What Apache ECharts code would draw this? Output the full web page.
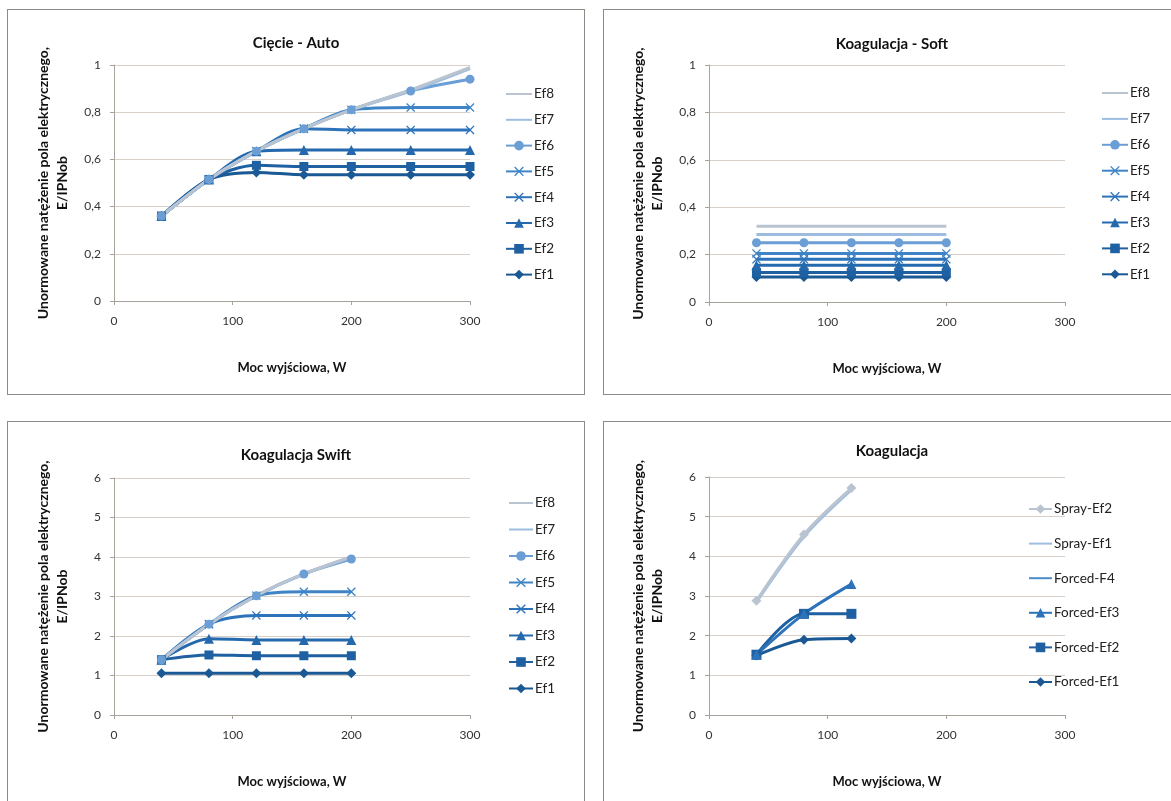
<!DOCTYPE html>
<html>
<head>
<meta charset="utf-8">
<script src="https://cdn.jsdelivr.net/npm/echarts@6/dist/echarts.min.js"></script>
<style>
  html, body { margin: 0; padding: 0; background: #ffffff; width: 1171px; height: 801px; overflow: hidden; }
  .panel { position: absolute; border: 1px solid #8e8a86; background: #ffffff; box-sizing: border-box; }
</style>
</head>
<body>
<div id="p1" class="panel" style="left:7px; top:9px; width:578px; height:386px;"></div>
<div id="p2" class="panel" style="left:603px; top:9px; width:578px; height:386px;"></div>
<div id="p3" class="panel" style="left:7px; top:421px; width:578px; height:392px;"></div>
<div id="p4" class="panel" style="left:603px; top:421px; width:578px; height:392px;"></div>
<script>
// ---------- DATA ----------
const efNames = ['Ef1', 'Ef2', 'Ef3', 'Ef4', 'Ef5', 'Ef6', 'Ef7', 'Ef8'];

// Cięcie - Auto
const autoX   = [40, 80, 120, 160, 200, 250, 300];
const autoEf1 = [0.36, 0.515, 0.545, 0.535, 0.535, 0.535, 0.535];
const autoEf2 = [0.36, 0.515, 0.575, 0.57, 0.57, 0.57, 0.57];
const autoEf3 = [0.36, 0.515, 0.635, 0.64, 0.64, 0.64, 0.64];
const autoEf4 = [0.36, 0.515, 0.635, 0.73, 0.725, 0.725, 0.725];
const autoEf5 = [0.36, 0.515, 0.635, 0.73, 0.81, 0.82, 0.82];
const autoEf6 = [0.36, 0.515, 0.635, 0.73, 0.81, 0.89, 0.94];
const autoEf7 = [0.36, 0.515, 0.635, 0.73, 0.81, 0.89, 0.985];
const autoEf8 = [0.36, 0.515, 0.635, 0.73, 0.81, 0.895, 0.99];

// Koagulacja - Soft
const softX   = [40, 80, 120, 160, 200];
const softEf1 = [0.105, 0.105, 0.105, 0.105, 0.105];
const softEf2 = [0.125, 0.125, 0.125, 0.125, 0.125];
const softEf3 = [0.155, 0.155, 0.155, 0.155, 0.155];
const softEf4 = [0.18, 0.18, 0.18, 0.18, 0.18];
const softEf5 = [0.205, 0.205, 0.205, 0.205, 0.205];
const softEf6 = [0.25, 0.25, 0.25, 0.25, 0.25];
const softEf7 = [0.285, 0.285, 0.285, 0.285, 0.285];
const softEf8 = [0.32, 0.32, 0.32, 0.32, 0.32];

// Koagulacja Swift
const swiftX   = [40, 80, 120, 160, 200];
const swiftEf1 = [1.06, 1.06, 1.06, 1.06, 1.06];
const swiftEf2 = [1.4, 1.52, 1.5, 1.5, 1.5];
const swiftEf3 = [1.4, 1.93, 1.9, 1.9, 1.9];
const swiftEf4 = [1.4, 2.3, 2.52, 2.52, 2.52];
const swiftEf5 = [1.4, 2.3, 3.02, 3.12, 3.12];
const swiftEf6 = [1.4, 2.3, 3.02, 3.57, 3.95];
const swiftEf7 = [1.4, 2.3, 3.02, 3.57, 4.0];
const swiftEf8 = [1.4, 2.3, 3.02, 3.57, 4.0];

// Koagulacja
const coagX         = [40, 80, 120];
const coagForcedEf1 = [1.5, 1.9, 1.93];
const coagForcedEf2 = [1.52, 2.55, 2.55];
const coagForcedEf3 = [1.52, 2.55, 3.3];
const coagForcedF4  = [];
const coagSprayEf1  = [2.85, 4.5, 5.68];
const coagSprayEf2  = [2.88, 4.55, 5.72];
const coagNames = ['Forced-Ef1', 'Forced-Ef2', 'Forced-Ef3', 'Forced-F4', 'Spray-Ef1', 'Spray-Ef2'];

const xTicks = [0, 100, 200, 300];

// ---------- STYLE ----------
const FONT = 'Lato, "Open Sans", sans-serif';
const efColors = ['#1b5995', '#1f60a2', '#2468ad', '#2d73ba', '#3f84c6', '#6a9ed4', '#9dbcdf', '#b9c4d0'];
const crossPath = 'path://M0,1L1,0L5,4L9,0L10,1L6,5L10,9L9,10L5,6L1,10L0,9L4,5Z';
const efSymbols = ['diamond', 'rect', 'triangle', crossPath, crossPath, 'circle', 'none', 'none'];
const efSizes = [10, 9, 10, 9, 9, 9, 0, 0];

function mkSeries(name, xs, vals, color, symbol, size) {
  const noMark = symbol === 'none';
  return {
    name: name,
    type: 'line',
    smooth: 0.3,
    data: xs.map((x, i) => [x, vals[i]]),
    symbol: noMark ? 'circle' : symbol,
    symbolSize: noMark ? 1 : size,
    showSymbol: !noMark,
    lineStyle: { width: 3, color: color },
    itemStyle: { color: color, opacity: noMark ? 0 : 1 },
    emphasis: { disabled: true },
    animation: false
  };
}

function makePanel(id, cfg) {
  const chart = echarts.init(document.getElementById(id), null, { renderer: 'canvas' });
  const option = {
    animation: false,
    backgroundColor: '#ffffff',
    title: {
      text: cfg.title, left: 'center', top: cfg.titleTop,
      textStyle: { fontFamily: FONT, fontSize: 15, fontWeight: 'bold', color: '#111' }
    },
    grid: { left: cfg.gridLeft, top: cfg.gridTop, width: 356, height: cfg.gridHeight },
    legend: {
      orient: 'vertical', left: cfg.legendLeft, top: cfg.legendTop,
      itemWidth: cfg.legendIconW, itemHeight: 12, itemGap: cfg.legendGap,
      data: cfg.series.map(s => s.name).slice().reverse(),
      textStyle: { fontFamily: FONT, fontSize: 13.5, color: '#222', padding: [0, 0, 0, -3] },
      selectedMode: false
    },
    xAxis: {
      type: 'value', min: xTicks[0], max: xTicks[xTicks.length - 1], interval: 100,
      name: 'Moc wyjściowa, W', nameLocation: 'middle', nameGap: cfg.xNameGap,
      nameTextStyle: { fontFamily: FONT, fontSize: 13, fontWeight: 'bold', color: '#111' },
      axisLine: { show: true, lineStyle: { color: '#a8a29c', width: 1 } },
      axisTick: { show: true, length: 4, inside: false, lineStyle: { color: '#a8a29c' } },
      axisLabel: { fontFamily: FONT, fontSize: 12, color: '#333', margin: 14 },
      splitLine: { show: false }
    },
    yAxis: {
      type: 'value', min: 0, max: cfg.yMax, interval: cfg.yInterval,
      name: 'Unormowane natężenie pola elektrycznego,\nE/IPNob',
      nameLocation: 'middle', nameGap: cfg.yNameGap, nameRotate: 90,
      nameTextStyle: { fontFamily: FONT, fontSize: 14, fontWeight: 'bold', color: '#111', lineHeight: 19, align: 'center' },
      axisLine: { show: true, lineStyle: { color: '#a8a29c', width: 1 } },
      axisTick: { show: true, length: 4, lineStyle: { color: '#a8a29c' } },
      axisLabel: {
        fontFamily: FONT, fontSize: 12, color: '#333', margin: 13,
        formatter: v => String(Math.round(v * 100) / 100).replace('.', ',')
      },
      splitLine: { show: true, lineStyle: { color: '#d8cfc8', width: 1 } }
    },
    series: cfg.series
  };
  chart.setOption(option);
}

function efSeries(xs, arrays) {
  return arrays.map((vals, i) => mkSeries(efNames[i], xs, vals, efColors[i], efSymbols[i], efSizes[i]));
}

makePanel('p1', {
  title: 'Cięcie - Auto', titleTop: 21,
  gridLeft: 106, gridTop: 55, gridHeight: 236,
  yMax: 1, yInterval: 0.2, yNameGap: 42, xNameGap: 60,
  legendLeft: 492, legendTop: 72, legendGap: 11.8, legendIconW: 26,
  series: efSeries(autoX, [autoEf1, autoEf2, autoEf3, autoEf4, autoEf5, autoEf6, autoEf7, autoEf8])
});

makePanel('p2', {
  title: 'Koagulacja - Soft', titleTop: 22,
  gridLeft: 105, gridTop: 55, gridHeight: 237,
  yMax: 1, yInterval: 0.2, yNameGap: 42, xNameGap: 60,
  legendLeft: 492, legendTop: 71, legendGap: 11.9, legendIconW: 26,
  series: efSeries(softX, [softEf1, softEf2, softEf3, softEf4, softEf5, softEf6, softEf7, softEf8])
});

makePanel('p3', {
  title: 'Koagulacja Swift', titleTop: 21,
  gridLeft: 106, gridTop: 56, gridHeight: 237,
  yMax: 6, yInterval: 1, yNameGap: 42, xNameGap: 60,
  legendLeft: 495, legendTop: 69, legendGap: 12.5, legendIconW: 24,
  series: efSeries(swiftX, [swiftEf1, swiftEf2, swiftEf3, swiftEf4, swiftEf5, swiftEf6, swiftEf7, swiftEf8])
});

const coagColors  = ['#1b5995', '#1f60a2', '#2d73ba', '#4b8ccb', '#9dbcdf', '#b9c4d0'];
const coagSymbols = ['diamond', 'rect', 'triangle', 'none', 'none', 'diamond'];
const coagSizes   = [10, 10, 10, 0, 0, 10];
const coagArrays  = [coagForcedEf1, coagForcedEf2, coagForcedEf3, coagForcedF4, coagSprayEf1, coagSprayEf2];

makePanel('p4', {
  title: 'Koagulacja', titleTop: 17,
  gridLeft: 105, gridTop: 55, gridHeight: 238,
  yMax: 6, yInterval: 1, yNameGap: 42, xNameGap: 60,
  legendLeft: 419, legendTop: 75, legendGap: 20.6, legendIconW: 23,
  series: coagArrays.map((vals, i) => mkSeries(coagNames[i], coagX, vals, coagColors[i], coagSymbols[i], coagSizes[i]))
});
</script>
</body>
</html>
